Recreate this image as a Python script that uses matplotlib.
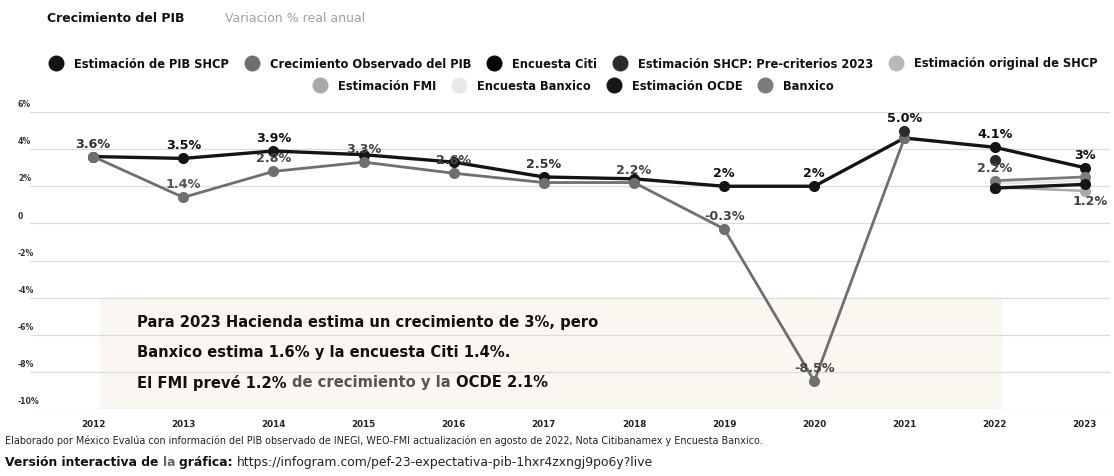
import numpy as np
import matplotlib
matplotlib.use("Agg")
import matplotlib.pyplot as plt
from matplotlib.lines import Line2D
from matplotlib.patches import Rectangle
import matplotlib.transforms as mtransforms

nan = np.nan
# ---------------- data ----------------
years = [2012, 2013, 2014, 2015, 2016, 2017, 2018, 2019, 2020, 2021, 2022, 2023]
shcp_estimate = [3.6, 3.5, 3.9, 3.7, 3.3, 2.5, 2.4, 2.0, 2.0, 4.6, 4.1, 3.0]
observed = [3.6, 1.4, 2.8, 3.3, 2.7, 2.2, 2.2, -0.3, -8.5, 4.6, nan, nan]
precriterios_2023 = [nan, nan, nan, nan, nan, nan, nan, nan, nan, 5.0, 3.4, nan]
banxico = [nan, nan, nan, nan, nan, nan, nan, nan, nan, nan, 2.3, 2.5]
encuesta_banxico = [nan, nan, nan, nan, nan, nan, nan, nan, nan, nan, 2.15, 2.3]
ocde = [nan, nan, nan, nan, nan, nan, nan, nan, nan, nan, 1.9, 2.1]
fmi = [nan, nan, nan, nan, nan, nan, nan, nan, nan, nan, 1.95, 1.75]
citi = [nan, nan, nan, nan, nan, nan, nan, nan, nan, nan, 1.9, nan]

y_ticks = [6, 4, 2, 0, -2, -4, -6, -8, -10]
y_tick_labels = ["6%", "4%", "2%", "0", "-2%", "-4%", "-6%", "-8%", "-10%"]

legend_row1 = ["Estimación de PIB SHCP", "Crecimiento Observado del PIB", "Encuesta Citi",
               "Estimación SHCP: Pre-criterios 2023", "Estimación original de SHCP"]
legend_row2 = ["Estimación FMI", "Encuesta Banxico", "Estimación OCDE", "Banxico"]

colors = {
    "Estimación de PIB SHCP": "#141414",
    "Crecimiento Observado del PIB": "#6f6f6f",
    "Encuesta Citi": "#050505",
    "Estimación SHCP: Pre-criterios 2023": "#2b2b2b",
    "Estimación original de SHCP": "#b8b8b8",
    "Estimación FMI": "#a9a9a9",
    "Encuesta Banxico": "#e8e8e8",
    "Estimación OCDE": "#161616",
    "Banxico": "#7b7b7b",
}

FONT = "DejaVu Sans"
W, H = 1114, 477
fig = plt.figure(figsize=(W / 100, H / 100), dpi=100)
fig.patch.set_facecolor("white")

def fx(x):
    return x / W

def fy(y):
    return 1 - y / H

ax = fig.add_axes([fx(30), fy(410), (1110 - 30) / W, (410 - 113) / H])
ax.set_xlim(2011.30, 2023.28)
ax.set_ylim(-10, 6)
for s in ax.spines.values():
    s.set_visible(False)
ax.tick_params(length=0)
ax.set_yticks(y_ticks)
ax.set_yticklabels([])
ax.set_xticks(years)
ax.set_xticklabels([str(y) for y in years], fontsize=6.3, fontweight="bold",
                   family=FONT, color="#222222")
ax.tick_params(axis="x", pad=7)
ax.grid(axis="y", color="#dcdcdc", lw=0.9)
ax.set_axisbelow(True)

blend = mtransforms.blended_transform_factory(fig.transFigure, ax.transData)
for v, lab in zip(y_ticks, y_tick_labels):
    ax.text(fx(18), v, lab, transform=blend + mtransforms.ScaledTranslation(0, 6 / 72, fig.dpi_scale_trans),
            fontsize=5.6, fontweight="bold", family=FONT, color="#333333", ha="left", va="center")

# annotation box
ax.add_patch(Rectangle((2012.08, -10), 2022.08 - 2012.08, 5.9, facecolor="#f9f7f0",
                       edgecolor="none", zorder=0))

def series(vals, name, lw=2.2, ms=8, z=3, line=True):
    c = colors[name]
    ax.plot(years, vals, color=c, lw=lw if line else 0, marker="o", ms=ms,
            markeredgewidth=0, zorder=z)

series(shcp_estimate, "Estimación de PIB SHCP", lw=2.4, z=3)
series(observed, "Crecimiento Observado del PIB", lw=2.0, z=4)
series(encuesta_banxico, "Encuesta Banxico", lw=1.8, z=3)
series(fmi, "Estimación FMI", lw=1.8, z=3)
series(banxico, "Banxico", lw=2.0, z=4)
series(ocde, "Estimación OCDE", lw=2.4, z=4)
series(citi, "Encuesta Citi", lw=2.0, z=3)
series(precriterios_2023, "Estimación SHCP: Pre-criterios 2023", z=5, line=False)

def lab(x, y, text, color="#111111", dx=0, dy=5, va="bottom"):
    ax.annotate(text, (x, y), xytext=(dx, dy), textcoords="offset points", ha="center", va=va,
                fontsize=9.2, fontweight="bold", family=FONT, color=color, zorder=6)

i = years.index
lab(2012, observed[i(2012)], "3.6%", "#333333")
lab(2013, shcp_estimate[i(2013)], "3.5%")
lab(2013, observed[i(2013)], "1.4%", "#555555")
lab(2014, shcp_estimate[i(2014)], "3.9%")
lab(2014, observed[i(2014)], "2.8%", "#444444")
lab(2015, observed[i(2015)], "3.3%", "#444444")
lab(2016, observed[i(2016)], "2.6%", "#444444")
lab(2017, shcp_estimate[i(2017)], "2.5%", "#333333")
lab(2018, observed[i(2018)], "2.2%", "#444444")
lab(2019, shcp_estimate[i(2019)], "2%")
lab(2019, observed[i(2019)], "-0.3%", "#444444")
lab(2020, shcp_estimate[i(2020)], "2%")
lab(2020, observed[i(2020)], "-8.5%", "#444444")
lab(2021, precriterios_2023[i(2021)], "5.0%")
lab(2022, shcp_estimate[i(2022)], "4.1%")
lab(2022, banxico[i(2022)], "2.2%", "#444444")
lab(2023, shcp_estimate[i(2023)], "3%")
lab(2023, fmi[i(2023)], "1.2%", "#444444", dx=4, dy=-2, va="top")

# ---------- text helpers ----------
fig.canvas.draw()
renderer = fig.canvas.get_renderer()

def runs(x, y, parts, size, family=FONT):
    for txt, col, wt in parts:
        t = fig.text(fx(x), fy(y), txt, fontsize=size, color=col, fontweight=wt,
                     family=family, ha="left", va="center")
        bb = t.get_window_extent(renderer)
        x += bb.width

runs(47, 18, [("Crecimiento del PIB", "#111111", "bold")], 9.0)
runs(225, 18, [("Variacion % real anual", "#a0a0a0", "normal")], 9.0)

# annotation text
runs(137, 322, [("Para 2023 Hacienda estima un crecimiento de 3%, pero", "#111111", "bold")], 10.6)
runs(137, 353, [("Banxico estima 1.6% y la encuesta Citi 1.4%.", "#111111", "bold")], 10.6)
runs(137, 383, [("El FMI prevé 1.2% ", "#111111", "bold"),
                ("de crecimiento y la ", "#555555", "bold"),
                ("OCDE 2.1%", "#111111", "bold")], 10.6)

# legend
def legend_row(names, yc, center, size=8.3, dot=16, gap_t=10, gap_i=15):
    texts, widths = [], []
    for n in names:
        t = fig.text(0, fy(yc), n, fontsize=size, fontweight="bold", family=FONT,
                     color="#111111", ha="left", va="center")
        widths.append(t.get_window_extent(renderer).width)
        texts.append(t)
    total = sum(dot + gap_t + w for w in widths) + gap_i * (len(names) - 1)
    x = center - total / 2
    for n, t, w in zip(names, texts, widths):
        fig.add_artist(Line2D([fx(x + dot / 2)], [fy(yc)], marker="o", ms=dot * 0.72,
                              color=colors[n], markeredgewidth=0, transform=fig.transFigure))
        t.set_x(fx(x + dot + gap_t))
        x += dot + gap_t + w + gap_i

legend_row(legend_row1, 64, 573)
legend_row(legend_row2, 86, 573)

# footer
runs(5, 441, [("Elaborado por México Evalúa con información del PIB observado de INEGI, WEO-FMI actualización en agosto de 2022, Nota Citibanamex y Encuesta Banxico.", "#222222", "normal")], 6.9)
runs(5, 463, [("Versión interactiva de ", "#111111", "bold"), ("la ", "#666666", "bold"),
              ("gráfica: ", "#111111", "bold"),
              ("https://infogram.com/pef-23-expectativa-pib-1hxr4zxngj9po6y?live", "#222222", "normal")], 8.9)

fig.savefig("out.png", dpi=100, facecolor="white")
